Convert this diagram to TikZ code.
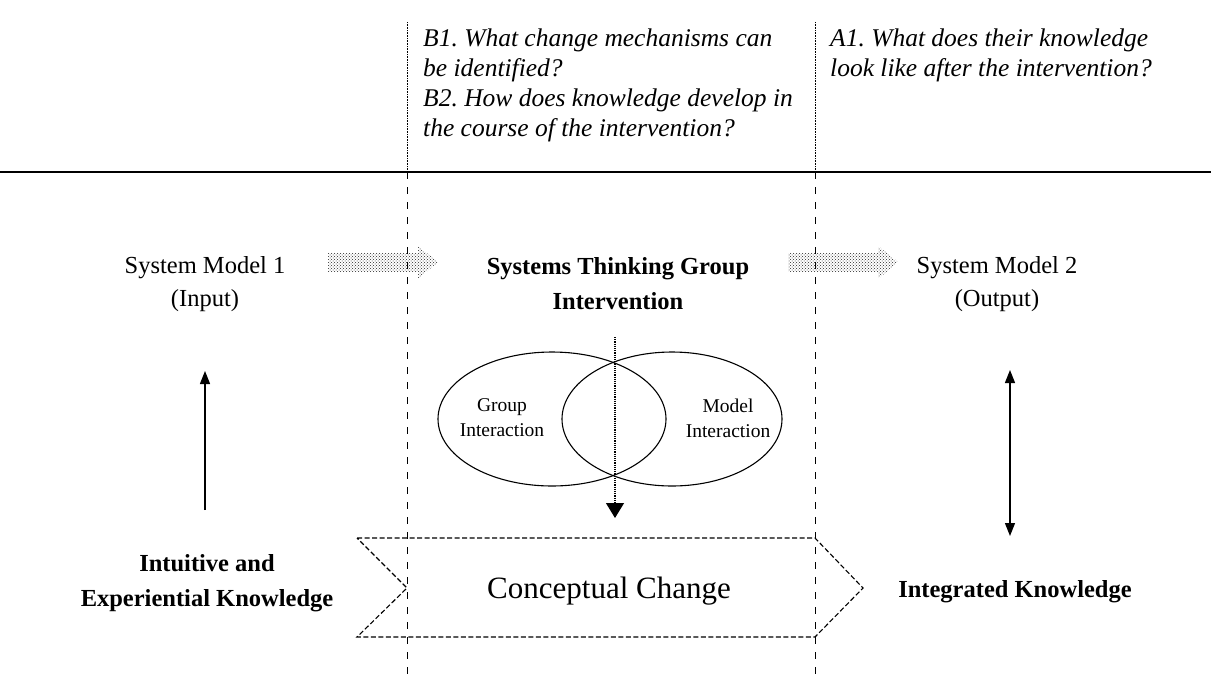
\documentclass[tikz,border=0pt]{standalone}
\usepackage{fontspec}
\setmainfont{Liberation Serif}
\usetikzlibrary{arrows.meta,patterns}
\frenchspacing

\tikzset{
	question/.style={font=\fontsize{25.5}{30}\selectfont\itshape,align=left,anchor=north west,inner sep=0pt},
	label/.style={font=\fontsize{24.5}{33}\selectfont,align=center,inner sep=0pt},
	boldlabel/.style={font=\fontsize{24.5}{35}\selectfont\bfseries,align=center,inner sep=0pt},
	small/.style={font=\fontsize{19.5}{25}\selectfont,align=center,inner sep=0pt},
	divider/.style={line width=0.9pt,dash pattern=on 7pt off 8pt},
	banner/.style={line width=1.1pt,dash pattern=on 5pt off 2.5pt},
	fuzzy/.style={pattern=crosshatch dots,pattern color=black!85,draw=none},
}

\begin{document}
\begin{tikzpicture}[x=1pt,y=-1pt]
		\useasboundingbox (0,0) rectangle (1211,681);
		% column borders
		\coordinate (T1) at (407,22);
		\coordinate (T2) at (815,22);
		\coordinate (M1) at (407,172);
		\coordinate (M2) at (815,172);
		\coordinate (B1) at (407,681);
		\coordinate (B2) at (815,681);
		\draw[densely dotted,line width=0.6pt] (T1)--(M1);
		\draw[densely dotted,line width=0.6pt] (T2)--(M2);
		\draw[divider] (M1)--(B1);
		\draw[divider] (M2)--(B2);
		\draw[line width=1.3pt] (0,172)--(1211,172);
		% research questions
		\node[question] (qB) at (423,29) {B1. What change mechanisms can\\be identified?\\B2. How does knowledge develop in\\the course of the intervention?};
		\node[question] (qA) at (830,29) {A1. What does their knowledge\\look like after the intervention?};
		% top row
		\node[label] (sm1) at (205,284) {System Model 1\\(Input)};
		\node[boldlabel] (sti) at (618,284) {Systems Thinking Group\\Intervention};
		\node[label] (sm2) at (997,284) {System Model 2\\(Output)};
		\fill[fuzzy] (328,253)--(418,253)--(418,246)--(438,262)--(418,279)--(418,272)--(328,272)--cycle;
		\fill[fuzzy] (788,253)--(878,253)--(878,246)--(898,262)--(878,279)--(878,272)--(788,272)--cycle;
		% venn
		\draw[line width=1.1pt] (552,419) ellipse (114 and 67);
		\draw[line width=1.1pt] (672,419) ellipse (110 and 67);
		\node[small] (grp) at (502,418) {Group\\Interaction};
		\node[small] (mdl) at (728,418) {Model\\Interaction};
		\coordinate (d1) at (615,337);
		\coordinate (d2) at (615,518);
		\draw[densely dotted,line width=1.2pt,-{Triangle[length=15pt,width=18pt]}] (d1)--(d2);
		% bottom row
		\node[boldlabel] (ik) at (207,583) {Intuitive and\\Experiential Knowledge};
		\node[boldlabel] (itk) at (1015,592) {Integrated Knowledge};
		\draw[banner] (357,538)--(815,538)--(863,588)--(815,637)--(357,637)--(407,588)--cycle;
		\node[font=\fontsize{31}{36}\selectfont] (cc) at (609,591) {Conceptual Change};
		\coordinate (u1) at (205,510);
		\coordinate (u2) at (205,371);
		\draw[line width=1.3pt,-{Triangle[length=13pt,width=10pt]}] (u1)--(u2);
		\coordinate (v1) at (1010,370);
		\coordinate (v2) at (1010,536);
		\draw[line width=1.3pt,{Triangle[length=13pt,width=10pt]}-{Triangle[length=13pt,width=10pt]}] (v1)--(v2);
\end{tikzpicture}
\end{document}
